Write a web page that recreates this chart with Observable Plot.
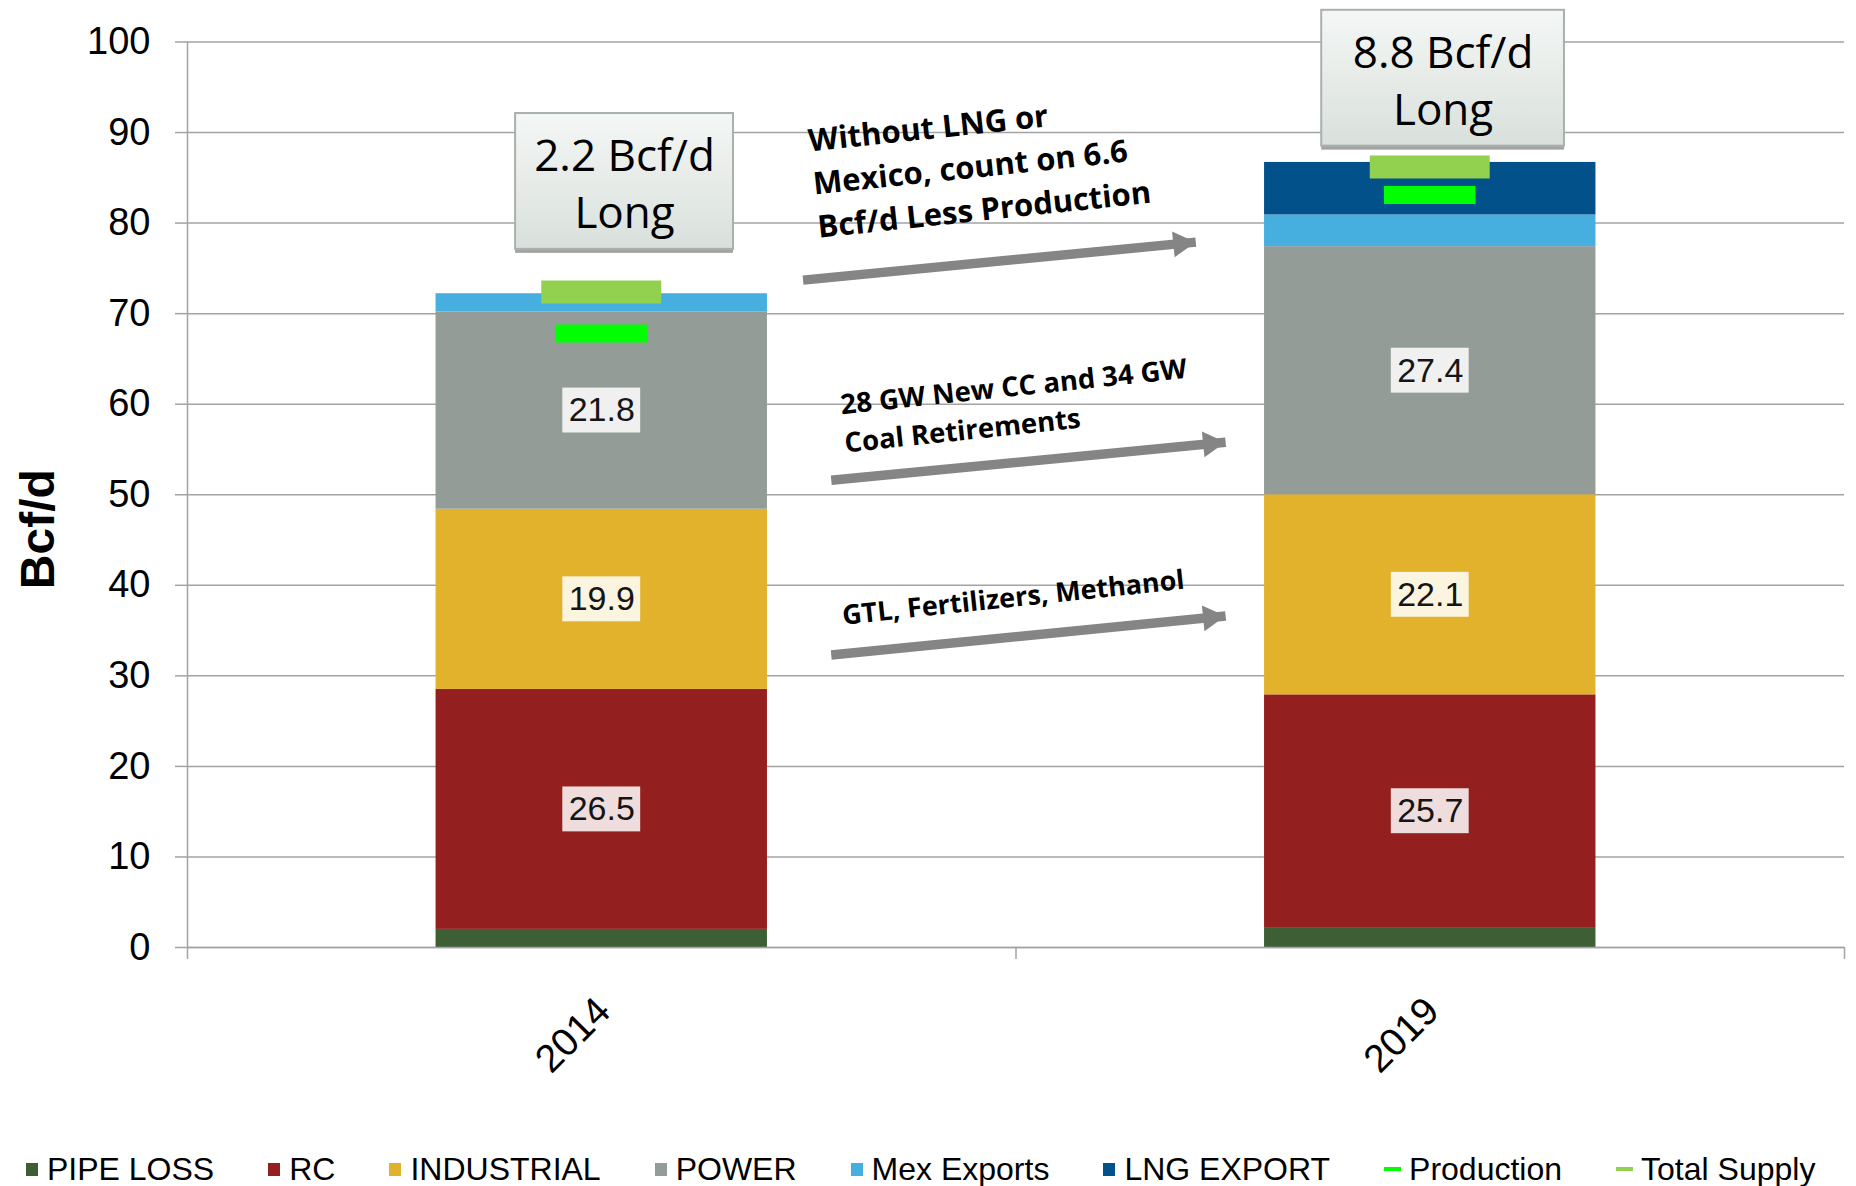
<!DOCTYPE html>
<html>
<head>
<meta charset="utf-8">
<script src="https://cdn.jsdelivr.net/npm/d3@7"></script>
<script src="https://cdn.jsdelivr.net/npm/@observablehq/plot@0.6"></script>
<style>
  body { margin: 0; background: #fff; font-family: "Liberation Sans", Arial, sans-serif; }
  #chart svg { display: block; }
  #legend { display: flex; align-items: center; height: 38px; margin-top: 20px; padding-left: 26px;
            font-size: 32px; line-height: 38px; white-space: nowrap; color: #000; }
  .item { display: flex; align-items: center; margin-right: 54px; }
  .sw { width: 12px; height: 13px; margin-right: 9px; }
  .ln { width: 17px; height: 4px; margin-right: 8px; }
</style>
</head>
<body>
<div id="chart"></div>
<div id="legend"></div>
<script>
// ---------------- data ----------------
const years = ["2014", "2019"];
const series = ["PIPE LOSS", "RC", "INDUSTRIAL", "POWER", "Mex Exports", "LNG EXPORT"];
const pipeLoss   = [2.0, 2.2];
const rc         = [26.5, 25.7];
const industrial = [19.9, 22.1];
const power      = [21.8, 27.4];
const mexExports = [2.0, 3.5];
const lngExport  = [0.0, 5.8];
const production  = [67.8, 83.1];
const totalSupply = [72.4, 86.2];
const labeledSeries = ["RC", "INDUSTRIAL", "POWER"];
const legendNames = ["PIPE LOSS", "RC", "INDUSTRIAL", "POWER", "Mex Exports", "LNG EXPORT", "Production", "Total Supply"];
const legendColors = ["#3e5f36", "#941f1f", "#e2b22c", "#939c96", "#46afdf", "#03518a", "#00ff00", "#92d050"];
const yTicks = [0, 10, 20, 30, 40, 50, 60, 70, 80, 90, 100];
const yTitle = "Bcf/d";
const yTitleAt = [46.2];

// "Long" callouts (x in category units, y in Bcf/d)
const longText = ["2.2 Bcf/d\nLong", "8.8 Bcf/d\nLong"];
const longX1 = [0.396, 1.369];
const longX2 = [0.659, 1.662];
const longY1 = [77.1, 88.5];
const longY2 = [92.1, 103.5];

// arrow annotations
const noteText = [
  "Without LNG or\nMexico, count on 6.6\nBcf/d Less Production",
  "28 GW New CC and 34 GW\nCoal Retirements",
  "GTL, Fertilizers, Methanol"
];
const noteX = [0.747, 0.786, 0.788];
const noteY = [91.3, 61.9, 38.6];
const noteSize = [31, 27.5, 27];
const arrowX1 = [0.743, 0.777, 0.777];
const arrowY1 = [73.7, 51.6, 32.3];
const arrowX2 = [1.217, 1.253, 1.253];
const arrowY2 = [77.9, 55.8, 36.6];

// ---------------- derived tables ----------------
const seriesValues = [pipeLoss, rc, industrial, power, mexExports, lngExport];
const segs = [];
years.forEach((yr, i) => {
  let base = 0;
  series.forEach((s, k) => {
    const v = seriesValues[k][i];
    segs.push({i, year: yr, series: s, value: v, y1: base, y2: base + v});
    base += v;
  });
});
const labelRows = segs.filter(d => labeledSeries.includes(d.series));
const supplyRows = years.map((yr, i) => ({i, series: "Total Supply", value: totalSupply[i]}));
const prodRows = years.map((yr, i) => ({i, series: "Production", value: production[i]}));
const longRows = longText.map((t, k) => ({t, x1: longX1[k], x2: longX2[k], y1: longY1[k], y2: longY2[k]}));
const noteRows = noteText.map((t, k) => ({t, x: noteX[k], y: noteY[k], fs: noteSize[k]}));
const arrowRows = arrowX1.map((d, k) => ({x1: arrowX1[k], y1: arrowY1[k], x2: arrowX2[k], y2: arrowY2[k]}));

const barHalf = 0.2;
const grey = "#a3a3a3";

const chart = Plot.plot({
  width: 1856,
  height: 1130,
  marginLeft: 187,
  marginRight: 12,
  marginTop: 41.5,
  marginBottom: 183,
  x: {domain: [0, 2], axis: null},
  y: {domain: [0, 100], axis: null},
  color: {domain: legendNames, range: legendColors},
  style: {fontFamily: '"Liberation Sans", Arial, sans-serif', background: "white", color: "#000", overflow: "visible"},
  marks: [
    Plot.gridY(yTicks, {stroke: grey, strokeOpacity: 1, strokeWidth: 1.5}),
    Plot.rect(segs, {x1: d => d.i + 0.5 - barHalf, x2: d => d.i + 0.5 + barHalf, y1: "y1", y2: "y2", fill: "series"}),
    // value labels
    Plot.rect(labelRows, {x1: d => d.i + 0.5 - 0.047, x2: d => d.i + 0.5 + 0.047,
      y1: d => (d.y1 + d.y2) / 2 - 2.48, y2: d => (d.y1 + d.y2) / 2 + 2.48, fill: "white", fillOpacity: 0.85}),
    Plot.text(labelRows, {x: d => d.i + 0.5, y: d => (d.y1 + d.y2) / 2, text: d => d.value.toFixed(1),
      fontSize: 34, fill: "#151515"}),
    // supply / production markers
    Plot.ruleY(supplyRows, {y: "value", x1: d => d.i + 0.5 - 0.0724, x2: d => d.i + 0.5 + 0.0724, stroke: "series", strokeWidth: 23}),
    Plot.ruleY(prodRows, {y: "value", x1: d => d.i + 0.5 - 0.0553, x2: d => d.i + 0.5 + 0.0553, stroke: "series", strokeWidth: 18}),
    // axes
    Plot.ruleX([0], {stroke: grey, strokeWidth: 1.5}),
    Plot.ruleY([0], {stroke: grey, strokeWidth: 1.5}),
    Plot.axisY(yTicks, {tickSize: 12, tickPadding: 25, fontSize: 38, stroke: grey, strokeWidth: 1.5, tickFormat: d => String(d)}),
    Plot.axisX([0, 1, 2], {tickSize: 12, tickFormat: () => "", stroke: grey, strokeWidth: 1.5}),
    Plot.axisX([0.5, 1.5], {tickSize: 0, tickPadding: 57, tickRotate: -45, dx: 2, fontSize: 39,
      tickFormat: d => years[Math.floor(d)]}),
    Plot.text([yTitle], {x: 0, y: yTitleAt, dx: -149, rotate: -90, fontSize: 48, fontWeight: "bold"}),
    // callout boxes
    Plot.rect(longRows, {x1: "x1", x2: "x2", y1: "y1", y2: "y2", dy: 4, fill: "#8c8c8c", fillOpacity: 0.8}),
    Plot.rect(longRows, {x1: "x1", x2: "x2", y1: "y1", y2: "y2", fill: "url(#longGrad)", stroke: "#a9b1ac", strokeWidth: 2}),
    Plot.text(longRows, {x: d => (d.x1 + d.x2) / 2, y: d => (d.y1 + d.y2) / 2, text: "t", fontSize: 44,
      lineHeight: 1.29, fontFamily: '"Open Sans", sans-serif', fill: "#000"}),
    // arrows
    Plot.link(arrowRows, {x1: "x1", y1: "y1", x2: "x2", y2: "y2", stroke: "#858585", strokeWidth: 9.5}),
    Plot.dot(arrowRows, {x: "x2", y: "y2", symbol: "triangle", r: 9.6, fill: "#858585", rotate: 84.3, dx: -15, dy: 1.5}),
    Plot.text(noteRows, {x: "x", y: "y", text: "t", fontSize: "fs", fontWeight: "bold", lineHeight: 1.4,
      lineAnchor: "top", textAnchor: "start", rotate: -6, fontFamily: '"Open Sans", sans-serif', fill: "#000"})
  ]
});

// gradient for callout boxes
const ns = "http://www.w3.org/2000/svg";
const defs = document.createElementNS(ns, "defs");
defs.innerHTML = '<linearGradient id="longGrad" x1="0" y1="0" x2="0" y2="1">' +
  '<stop offset="0" stop-color="#f4f7f5"/><stop offset="1" stop-color="#d9e0dc"/></linearGradient>';
chart.prepend(defs);
document.getElementById("chart").appendChild(chart);

// legend
const legend = d3.select("#legend");
legendNames.forEach((name, k) => {
  const item = legend.append("div").attr("class", "item");
  const isLine = name === "Production" || name === "Total Supply";
  item.append("div").attr("class", isLine ? "ln" : "sw").style("background", legendColors[k]);
  item.append("span").text(name);
});
</script>
</body>
</html>
